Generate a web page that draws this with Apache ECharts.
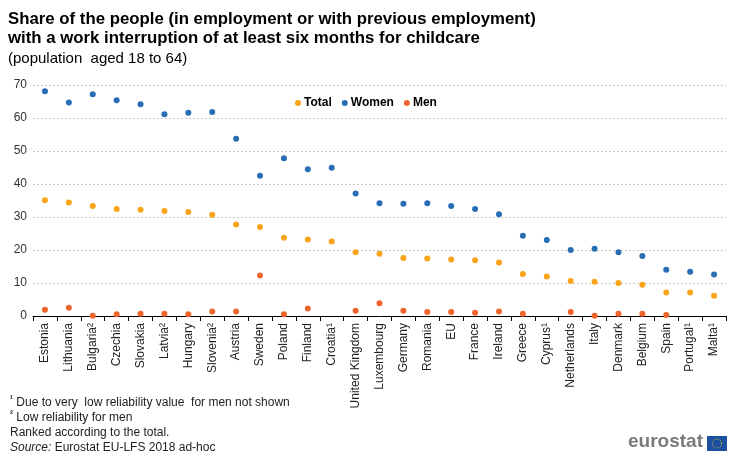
<!DOCTYPE html>
<html>
<head>
<meta charset="utf-8">
<script src="https://cdn.jsdelivr.net/npm/echarts@6/dist/echarts.min.js"></script>
<style>
  html, body { margin: 0; padding: 0; background: #fff; }
  #main { width: 740px; height: 458px; }
</style>
</head>
<body>
<div id="main"></div>
<script>
// categories, ranked by total
var countries = ['Estonia', 'Lithuania', 'Bulgaria²', 'Czechia', 'Slovakia', 'Latvia²', 'Hungary', 'Slovenia²',
    'Austria', 'Sweden', 'Poland', 'Finland', 'Croatia¹', 'United Kingdom', 'Luxembourg', 'Germany', 'Romania',
    'EU', 'France', 'Ireland', 'Greece', 'Cyprus¹', 'Netherlands', 'Italy', 'Denmark', 'Belgium', 'Spain',
    'Portugal¹', 'Malta¹'];

var total = [35.1, 34.4, 33.3, 32.4, 32.2, 31.8, 31.5, 30.7, 27.7, 27.0, 23.7, 23.2, 22.6, 19.3, 18.9, 17.6, 17.4,
    17.1, 16.9, 16.2, 12.7, 12.0, 10.6, 10.4, 10.0, 9.5, 7.1, 7.1, 6.1];

var women = [68.1, 64.7, 67.2, 65.4, 64.2, 61.1, 61.6, 61.8, 53.7, 42.5, 47.8, 44.5, 44.9, 37.1, 34.2, 34.0, 34.2,
    33.3, 32.4, 30.8, 24.3, 23.0, 20.0, 20.4, 19.3, 18.2, 14.0, 13.4, 12.6];

// men: not shown where reliability is too low (null)
var men = [1.9, 2.5, 0.1, 0.5, 0.7, 0.7, 0.5, 1.4, 1.4, 12.3, 0.5, 2.3, null, 1.6, 3.9, 1.6, 1.2,
    1.2, 1.0, 1.4, 0.7, null, 1.2, 0.1, 0.7, 0.7, 0.3, null, null];

var yTicks = [0, 10, 20, 30, 40, 50, 60, 70];

var font = 'Arial, "Liberation Sans", sans-serif';
var narrow = '"Liberation Sans Narrow", "Arial Narrow", Arial, sans-serif';

var myChart = echarts.init(document.getElementById('main'));

var option = {
    backgroundColor: '#fff',
    animation: false,
    textStyle: { fontFamily: font },
    title: [{
        left: 3,
        top: 5,
        text: 'Share of the people (in employment or with previous employment)\nwith a work interruption of at least six months for childcare',
        textStyle: { fontSize: 16.8, fontWeight: 'bold', color: '#000', lineHeight: 19, fontFamily: font },
        subtext: '(population  aged 18 to 64)',
        subtextStyle: { fontSize: 15, color: '#000', fontFamily: font },
        itemGap: 3
    }, {
        left: 5,
        top: 390,
        text: '{s|¹} Due to very  low reliability value  for men not shown\n{s|²} Low reliability for men\nRanked according to the total.\n{i|Source:} Eurostat EU-LFS 2018 ad-hoc',
        textStyle: {
            fontSize: 12, fontWeight: 'normal', color: '#222', lineHeight: 15, fontFamily: narrow,
            rich: {
                s: { fontSize: 9, fontWeight: 'bold', verticalAlign: 'top', fontFamily: narrow, color: '#222' },
                i: { fontStyle: 'italic', fontSize: 12, fontFamily: narrow, color: '#222' }
            }
        }
    }],
    legend: {
        left: 290,
        top: 92,
        icon: 'circle',
        itemWidth: 6,
        itemHeight: 6,
        itemGap: 10,
        textStyle: { fontSize: 12, fontWeight: 'bold', color: '#000', padding: [0, 0, 0, -2] },
        data: ['Total', 'Women', 'Men']
    },
    grid: { left: 33, right: 14, top: 85, bottom: 142 },
    xAxis: {
        type: 'category',
        data: countries,
        boundaryGap: true,
        axisLine: { lineStyle: { color: '#000', width: 1 } },
        axisTick: { show: true, alignWithLabel: false, length: 5, lineStyle: { color: '#000' } },
        axisLabel: { rotate: 90, interval: 0, fontSize: 12, color: '#222', margin: 7 }
    },
    yAxis: {
        type: 'value',
        min: yTicks[0],
        max: yTicks[yTicks.length - 1],
        interval: 10,
        axisLine: { show: false },
        axisTick: { show: false },
        axisLabel: { fontSize: 12, color: '#333', margin: 6 },
        splitLine: { lineStyle: { color: '#c8c8c8', type: [2, 2], width: 1 } }
    },
    series: [{
        name: 'Total',
        type: 'scatter',
        data: total,
        symbolSize: 6,
        itemStyle: { color: '#FAA519', opacity: 1 }
    }, {
        name: 'Women',
        type: 'scatter',
        data: women,
        symbolSize: 6,
        itemStyle: { color: '#286EB4', opacity: 1 }
    }, {
        name: 'Men',
        type: 'scatter',
        data: men,
        symbolSize: 6,
        itemStyle: { color: '#F0642D', opacity: 1 }
    }],
    graphic: [{
        type: 'text',
        left: 628,
        top: 432,
        style: { text: 'eurostat', font: 'bold 19px ' + font, fill: '#7a7a7a' }
    }, {
        type: 'group',
        left: 707,
        top: 436,
        children: [{
            type: 'rect',
            shape: { x: 0, y: 0, width: 20, height: 15 },
            style: { fill: '#1c4fa0' }
        }, {
            type: 'circle',
            shape: { cx: 10, cy: 7.5, r: 4.5 },
            style: { fill: 'none', stroke: '#f2d21b', lineWidth: 1, lineDash: [1, 1.4] }
        }]
    }]
};

myChart.setOption(option);
</script>
</body>
</html>
